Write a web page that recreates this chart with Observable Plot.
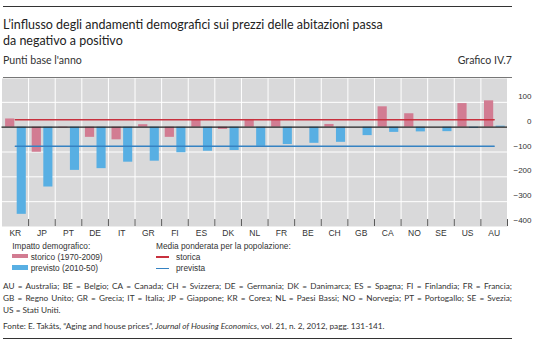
<!DOCTYPE html>
<html><head><meta charset="utf-8">
<script src="https://cdn.jsdelivr.net/npm/d3@7"></script>
<script src="https://cdn.jsdelivr.net/npm/@observablehq/plot@0.6"></script>
<style>
html,body{margin:0;padding:0;background:#fff;}
#page{position:relative;width:540px;height:350px;overflow:hidden;font-family:Lato,"Open Sans",sans-serif;color:#222;}
.t{position:absolute;white-space:nowrap;line-height:1;}
.rule{position:absolute;left:3px;width:509px;}
.lg{position:absolute;white-space:nowrap;line-height:1;font-family:"Liberation Sans",Arial,sans-serif;font-size:8.3px;color:#333;}
.sw{position:absolute;}
#chart{position:absolute;left:0;top:78px;}
</style></head><body>
<div id="page">
  <div class="rule" style="top:6px;height:1px;background:#333"></div>
  <div class="t" id="title1" data-b="29.3" style="left:3px;font-size:13px;color:#222">L’influsso degli andamenti demografici sui prezzi delle abitazioni passa</div>
  <div class="t" id="title2" data-b="45" style="left:3px;font-size:13px;color:#222">da negativo a positivo</div>
  <div class="t" id="sub" data-b="64.3" style="left:3px;font-size:9.5px;color:#333">Punti base l'anno</div>
  <div class="t" id="num" data-b="64.3" style="right:28px;font-size:9.5px;color:#333">Grafico IV.7</div>
  <div class="rule" style="top:76.5px;height:1px;background:#777"></div>
  <div id="chart"></div>

  <div class="lg" data-b="248.5" style="left:12.3px">Impatto demografico:</div>
  <div class="sw" id="sw1" style="left:12.3px;top:254px;width:16px;height:4.4px"></div>
  <div class="lg" data-b="260" style="left:30.7px">storico (1970-2009)</div>
  <div class="sw" id="sw2" style="left:12.3px;top:265.2px;width:16px;height:4.4px"></div>
  <div class="lg" data-b="270.5" style="left:30.7px">previsto (2010-50)</div>

  <div class="lg" data-b="248.5" style="left:156px">Media ponderata per la popolazione:</div>
  <div class="sw" id="ln1" style="left:156px;top:256.3px;width:12.5px;height:1.4px"></div>
  <div class="lg" data-b="260" style="left:176px">storica</div>
  <div class="sw" id="ln2" style="left:156px;top:267.5px;width:12.5px;height:1.4px"></div>
  <div class="lg" data-b="270.5" style="left:176px">prevista</div>

  <div class="t fn" id="fn1" data-b="289" style="left:3px;color:#333">AU = Australia; BE = Belgio; CA = Canada; CH = Svizzera; DE = Germania; DK = Danimarca; ES = Spagna; FI = Finlandia; FR = Francia;</div>
  <div class="t fn" id="fn2" data-b="301.3" style="left:3px;color:#333">GB = Regno Unito; GR = Grecia; IT = Italia; JP = Giappone; KR = Corea; NL = Paesi Bassi; NO = Norvegia; PT = Portogallo; SE = Svezia;</div>
  <div class="t fn" id="fn3" data-b="313.3" style="left:3px;color:#333">US = Stati Uniti.</div>
  <div class="t fn" id="fn4" data-b="329" style="left:3px;color:#333">Fonte: E. Takáts, “Aging and house prices”, <i>Journal of Housing Economics</i>, vol. 21, n. 2, 2012, pagg. 131-141.</div>
  <div class="rule" style="top:338px;height:1px;background:#333"></div>
</div>
<script>
// ---- data ----
const countries = ["KR","JP","PT","DE","IT","GR","FI","ES","DK","NL","FR","BE","CH","GB","CA","NO","SE","US","AU"];
const storico   = [33, -101, -3, -41, -51, 10, -41, 31, -9, 31, 31, 0, 11, 0, 82, 54, 0, 95, 106];
const previsto  = [-351, -241, -174, -167, -141, -137, -103, -97, -94, -77, -70, -65, -61, -34, -21, -19, -18, -5, 4];
const mediaStorica = 30;
const mediaPrevista = -77;
const yTicks = [100, 0, -100, -200, -300, -400];
const gridVals = [100, -100, -200, -300];

const PINK = "#d27c92", BLUE = "#58afe3", RED = "#c8313e", DBLUE = "#3582c2";
document.getElementById("sw1").style.background = PINK;
document.getElementById("sw2").style.background = BLUE;
document.getElementById("ln1").style.background = RED;
document.getElementById("ln2").style.background = DBLUE;

const table = countries.map((c, i) => ({c, s: storico[i], p: previsto[i]}));
const meanS = [{c: countries[0], v: mediaStorica}, {c: countries[countries.length - 1], v: mediaStorica}];
const meanP = [{c: countries[0], v: mediaPrevista}, {c: countries[countries.length - 1], v: mediaPrevista}];

const W = 540, mL = 1.5, mR = 33;
const bw = (W - mL - mR) / countries.length;

const chart = Plot.plot({
  width: W, height: 164,
  marginLeft: mL, marginRight: mR, marginTop: 0, marginBottom: 16,
  x: {domain: countries, padding: 0, round: false},
  y: {domain: [-400, 196], label: null},
  style: {fontFamily: "'Liberation Sans', Arial, sans-serif", fontSize: "8.5px", color: "#333", background: "transparent", overflow: "visible"},
  marks: [
    Plot.frame({fill: "#d9d9da", stroke: "none"}),
    Plot.gridY(gridVals, {stroke: "#fff", strokeOpacity: 1, strokeWidth: 1}),
    Plot.ruleX(countries, {dx: bw / 2, stroke: "#fff", strokeWidth: 1}),
    Plot.barY(table, {x: "c", y: "s", fill: PINK, insetLeft: 3.6, insetRight: 13.8}),
    Plot.barY(table, {x: "c", y: "p", fill: BLUE, insetLeft: 15.2, insetRight: 2.3}),
    Plot.ruleY([0], {stroke: "#222", strokeWidth: 1.2}),
    Plot.lineY(meanS, {x: "c", y: "v", stroke: RED, strokeWidth: 1.4}),
    Plot.lineY(meanP, {x: "c", y: "v", stroke: DBLUE, strokeWidth: 1.4}),
    Plot.ruleX(countries, {dx: bw / 2, y1: -400, y2: -372, stroke: "#555", strokeWidth: 1}),
    Plot.axisX({tickSize: 0, tickPadding: 3, fontSize: 8.5, label: null}),
    Plot.axisY({anchor: "right", ticks: yTicks, tickSize: 0, tickPadding: 0, textAnchor: "end", dx: 24, dy: -6, fontSize: 8, label: null})
  ]
});
document.getElementById("chart").appendChild(chart);

// ---- text layout helpers ----
function width(el) { return el.getBoundingClientRect().width; }
function fitTo(el, w) {
  const fs = parseFloat(getComputedStyle(el).fontSize);
  el.style.fontSize = (fs * w / width(el)) + "px";
}
function placeBaseline(el) {
  const b = +el.dataset.b;
  el.style.top = "0px";
  const m = document.createElement("span");
  m.style.cssText = "display:inline-block;width:0;height:0;vertical-align:baseline";
  el.appendChild(m);
  const off = m.getBoundingClientRect().top - el.getBoundingClientRect().top;
  m.remove();
  el.style.top = (b - off) + "px";
}
const t1 = document.getElementById("title1");
fitTo(t1, 380);
document.getElementById("title2").style.fontSize = t1.style.fontSize;
const sub = document.getElementById("sub");
fitTo(sub, 79);
document.getElementById("num").style.fontSize = sub.style.fontSize;
const f4 = document.getElementById("fn4");
f4.style.fontSize = "9px";
fitTo(f4, 382);
for (const id of ["fn1", "fn2", "fn3"]) document.getElementById(id).style.fontSize = f4.style.fontSize;
for (const id of ["fn1", "fn2"]) {
  const el = document.getElementById(id);
  const spaces = (el.textContent.match(/ /g) || []).length;
  const extra = (509 - width(el)) / spaces;
  el.style.wordSpacing = extra + "px";
}
document.querySelectorAll("[data-b]").forEach(placeBaseline);
</script>
</body></html>
